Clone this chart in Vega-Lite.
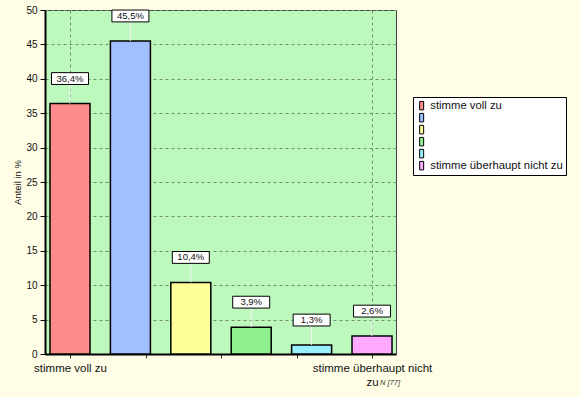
{
  "$schema": "https://vega.github.io/schema/vega-lite/v6.json",
  "autosize": {"type": "none"},
  "padding": {"left": 45, "top": 10, "right": 184, "bottom": 43},
  "width": 351,
  "height": 344,
  "background": "#FFFDE6",
  "title": {
    "text": "N [77]",
    "orient": "bottom",
    "anchor": "end",
    "frame": "group",
    "fontSize": 7.5,
    "fontStyle": "italic",
    "fontWeight": "normal",
    "color": "#333333",
    "offset": 0,
    "dx": 4,
    "dy": -9
  },
  "config": {
    "view": {"fill": "#BDF8BD", "stroke": "#404040", "strokeWidth": 1},
    "font": "Liberation Sans"
  },
  "datasets": {
    "antworten": [
      {"pos": 1, "kategorie": "stimme voll zu", "anteil": 36.4, "label": "36,4%"},
      {"pos": 2, "kategorie": "2", "anteil": 45.5, "label": "45,5%"},
      {"pos": 3, "kategorie": "3", "anteil": 10.4, "label": "10,4%"},
      {"pos": 4, "kategorie": "4", "anteil": 3.9, "label": "3,9%"},
      {"pos": 5, "kategorie": "5", "anteil": 1.3, "label": "1,3%"},
      {"pos": 6, "kategorie": "stimme überhaupt nicht zu", "anteil": 2.6, "label": "2,6%"}
    ]
  },
  "data": {"name": "antworten"},
  "encoding": {
    "x": {
      "field": "pos",
      "type": "quantitative",
      "scale": {"domain": [0.586, 6.397], "nice": false, "zero": false, "padding": 0},
      "axis": {
        "title": null,
        "values": [1, 2.25, 3.5, 4.75, 6],
        "labelExpr": "datum.value == 1 ? 'stimme voll zu' : (datum.value == 6 ? ['stimme überhaupt nicht', 'zu'] : '')",
        "labelFontSize": 11.5,
        "labelColor": "#111111",
        "labelLineHeight": 14,
        "labelPadding": 4,
        "labelOverlap": false,
        "labelFlush": false,
        "labelBound": false,
        "tickSize": 4,
        "tickColor": "#333333",
        "domainColor": "#000000",
        "domainWidth": 2,
        "grid": true,
        "gridDash": [3, 3],
        "gridColor": "#6f8f6f",
        "gridOpacity": {"condition": {"test": "datum.value == 1 || datum.value == 6", "value": 1}, "value": 0}
      }
    },
    "y": {
      "field": "anteil",
      "type": "quantitative",
      "scale": {"domain": [0, 50], "nice": false},
      "axis": {
        "title": "Anteil in %",
        "titleFontSize": 9.5,
        "titleFontWeight": "normal",
        "titleColor": "#111111",
        "titlePadding": 3,
        "values": [0, 5, 10, 15, 20, 25, 30, 35, 40, 45, 50],
        "labelFontSize": 10,
        "labelColor": "#111111",
        "labelPadding": 3,
        "tickSize": 5,
        "tickColor": "#000000",
        "domainColor": "#000000",
        "domainWidth": 2,
        "grid": true,
        "gridDash": [3, 3],
        "gridColor": "#6f8f6f"
      }
    }
  },
  "layer": [
    {
      "mark": {"type": "bar", "width": 40, "stroke": "#000000", "strokeWidth": 1.5},
      "encoding": {
        "color": {
          "field": "kategorie",
          "type": "nominal",
          "scale": {
            "domain": ["stimme voll zu", "2", "3", "4", "5", "stimme überhaupt nicht zu"],
            "range": ["#FF8C8C", "#A0C0FF", "#FFFF99", "#90F090", "#99EEFF", "#FFAAFF"]
          },
          "legend": {
            "orient": "none",
            "legendX": 368,
            "legendY": 87,
            "title": null,
            "padding": 3,
            "fillColor": "#FFFFFF",
            "strokeColor": "#000000",
            "symbolType": "M-0.4,-0.85H0.4V0.85H-0.4Z",
            "symbolSize": 100,
            "symbolStrokeColor": "#000000",
            "symbolStrokeWidth": 1,
            "symbolOpacity": 1,
            "labelFontSize": 11.3,
            "labelColor": "#111111",
            "labelOffset": 3,
            "rowPadding": -1,
            "labelExpr": "datum.label == 'stimme voll zu' || datum.label == 'stimme überhaupt nicht zu' ? datum.label : ''"
          }
        }
      }
    },
    {
      "mark": {"type": "rule", "color": "#F4F4F4", "strokeWidth": 1, "y2Offset": -19},
      "encoding": {"y2": {"field": "anteil"}}
    },
    {
      "mark": {
        "type": "point",
        "shape": "M-1,-0.32H1V0.32H-1Z",
        "size": 1369,
        "filled": true,
        "fill": "#FFFFFF",
        "stroke": "#000000",
        "strokeWidth": 1,
        "opacity": 1,
        "yOffset": -25
      },
      "encoding": {}
    },
    {
      "mark": {"type": "text", "fontSize": 9.5, "color": "#111111", "baseline": "middle", "align": "center", "yOffset": -25},
      "encoding": {"text": {"field": "label"}}
    }
  ]
}
